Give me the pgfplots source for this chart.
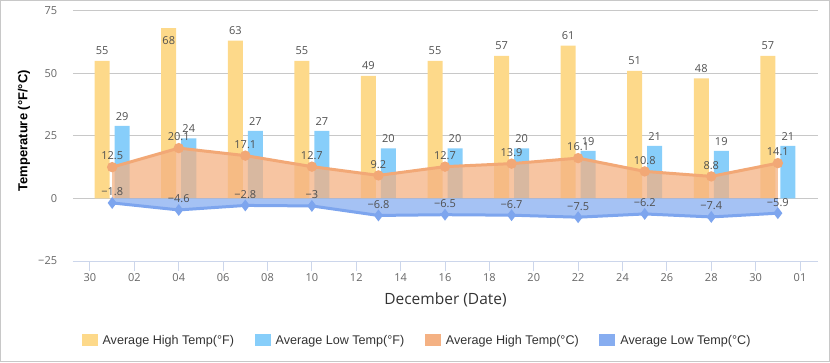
\documentclass[border=0pt]{standalone}
\usepackage{pgfplots}
\pgfplotsset{compat=1.18}
\usepackage{pgfplotstable}
\usepackage{fontspec}
\setmainfont{Open Sans}
\newfontfamily\legfont{Liberation Sans}

\definecolor{ybarc}{RGB}{253,217,138}
\definecolor{bbarc}{RGB}{135,206,250}
\definecolor{oarea}{RGB}{244,177,131}
\definecolor{oline}{RGB}{242,168,118}
\definecolor{barea}{RGB}{135,173,240}
\definecolor{bline}{RGB}{125,165,238}
\definecolor{gridc}{RGB}{200,200,200}
\definecolor{axc}{RGB}{204,214,235}
\definecolor{tickc}{RGB}{102,102,102}
\definecolor{labc}{RGB}{80,80,80}
\definecolor{titc}{RGB}{51,51,51}

% hfy: vertical position of the high-F label (68 sits inside its bar)
\pgfplotstableread{
x hf lf hc lc hct lct hfy
1 55 29 12.5 -1.8 12.5 −1.8 55
4 68 24 20.1 -4.6 20.1 −4.6 59.3
7 63 27 17.1 -2.8 17.1 −2.8 63
10 55 27 12.7 -3 12.7 −3 55
13 49 20 9.2 -6.8 9.2 −6.8 49
16 55 20 12.7 -6.5 12.7 −6.5 55
19 57 20 13.9 -6.7 13.9 −6.7 57
22 61 19 16.1 -7.5 16.1 −7.5 61
25 51 21 10.8 -6.2 10.8 −6.2 51
28 48 19 8.8 -7.4 8.8 −7.4 48
31 57 21 14.1 -5.9 14.1 −5.9 57
}\data

\begin{document}
\begin{tikzpicture}
\begin{axis}[
  name=ax,
  scale only axis,
  width=745pt, height=250.3pt,
  xmin=-0.766, xmax=32.81, ymin=-25, ymax=75,
  axis lines*=left,
  x axis line style={draw=axc, line width=1pt, -},
  y axis line style={draw=none},
  xtick={0,2,...,32},
  xticklabels={30,02,04,06,08,10,12,14,16,18,20,22,24,26,28,30,01},
  ytick={-25,0,25,50,75},
  yticklabels={−25,0,25,50,75},
  tick align=outside,
  major tick length=10pt,
  xtick style={draw=axc, line width=1pt},
  ytick style={draw=none},
  ymajorgrids,
  grid style={draw=gridc, line width=1pt},
  xticklabel style={anchor=base, inner sep=0pt, yshift=-10.2pt, font=\fontsize{11}{13}\selectfont, text=tickc},
  yticklabel style={anchor=base east, inner sep=0pt, xshift=-5.7pt, yshift=-3.9pt, font=\fontsize{11}{13}\selectfont, text=tickc},
  xlabel={December (Date)},
  xlabel style={at={(rel axis cs:0.5,-0.1718)}, anchor=base, inner sep=0pt, font=\fontsize{15.5}{18}\selectfont, text=titc},
  ylabel={Temperature (°F/°C)},
  ylabel style={at={(rel axis cs:-0.0658,0.52)}, anchor=center, rotate=0, inner sep=0pt, font=\legfont\bfseries\fontsize{13}{15}\selectfont, text=black},
  legend columns=4,
  legend cell align=left,
  legend style={at={(0.0115,-0.3176)}, anchor=west, draw=none, fill=none,
    inner sep=0pt, outer sep=0pt,
    font=\legfont\fontsize{12.6}{15}\selectfont, text=titc,
    nodes={inner sep=0pt},
    /tikz/every odd column/.style={column sep=5pt},
    /tikz/every even column/.style={column sep=20.5pt}},
]
% bars
\addplot[ybar, bar width=15pt, bar shift=-10pt, fill=ybarc, draw=none,
  legend image code/.code={\fill[ybarc, fill opacity=1] (0pt,-6pt) rectangle (16pt,6pt);}]
  table[x=x, y=hf]{\data};
\addlegendentry{Average High Temp(°F)}
\addplot[ybar, bar width=15pt, bar shift=10pt, fill=bbarc, draw=none,
  legend image code/.code={\fill[bbarc, fill opacity=1] (0pt,-6pt) rectangle (16pt,6pt);}]
  table[x=x, y=lf]{\data};
\addlegendentry{Average Low Temp(°F)}
% high C area
\addplot[draw=none, fill=oarea, fill opacity=0.75,
  legend image code/.code={\fill[oarea, fill opacity=1] (0pt,-6pt) rectangle (16pt,6pt);}]
  table[x=x, y=hc]{\data} \closedcycle;
\addlegendentry{Average High Temp(°C)}
\addplot[forget plot, oline, line width=3pt, mark=*, mark size=3.6pt,
  mark options={fill=oline, draw=none}]
  table[x=x, y=hc]{\data};
% low C area
\addplot[draw=none, fill=barea, fill opacity=0.75,
  legend image code/.code={\fill[barea, fill opacity=1] (0pt,-6pt) rectangle (16pt,6pt);}]
  table[x=x, y=lc]{\data} \closedcycle;
\addlegendentry{Average Low Temp(°C)}
\addplot[forget plot, bline, line width=3pt, mark=diamond*, mark size=3.5pt,
  mark options={fill=bline, draw=none}]
  table[x=x, y=lc]{\data};
% labels
\addplot[forget plot, draw=none, mark=none, nodes near coords,
  point meta=explicit symbolic,
  nodes near coords style={font=\fontsize{11}{13}\selectfont, text=labc, anchor=south, inner sep=0pt, xshift=-10pt, yshift=5.5pt}]
  table[x=x, y=hfy, meta=hf]{\data};
\addplot[forget plot, draw=none, mark=none, nodes near coords,
  point meta=explicit symbolic,
  nodes near coords style={font=\fontsize{11}{13}\selectfont, text=labc, anchor=south, inner sep=0pt, xshift=10pt, yshift=5.5pt}]
  table[x=x, y=lf, meta=lf]{\data};
\addplot[forget plot, draw=none, mark=none, nodes near coords,
  point meta=explicit symbolic,
  nodes near coords style={font=\fontsize{11}{13}\selectfont, text=labc, anchor=south, inner sep=0pt, yshift=7pt}]
  table[x=x, y=hc, meta=hct]{\data};
\addplot[forget plot, draw=none, mark=none, nodes near coords,
  point meta=explicit symbolic,
  nodes near coords style={font=\fontsize{11}{13}\selectfont, text=labc, anchor=south, inner sep=0pt, yshift=6.8pt}]
  table[x=x, y=lc, meta=lct]{\data};
\end{axis}
\pgfresetboundingbox
\path[use as bounding box] ([shift={(-73pt,-101pt)}]ax.south west) rectangle ([shift={(12pt,10.7pt)}]ax.north east);
\draw[gridc, line width=1pt] ([shift={(-72.5pt,-100.5pt)}]ax.south west) rectangle ([shift={(11.5pt,10.2pt)}]ax.north east);
\end{tikzpicture}
\end{document}
